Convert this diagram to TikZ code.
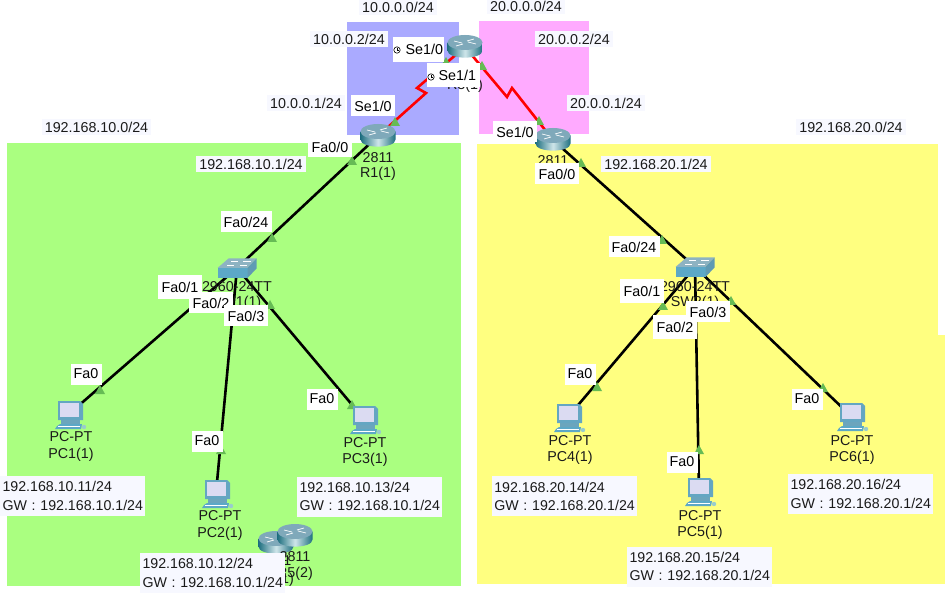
\documentclass[tikz,border=0pt]{standalone}
\usepackage{fontspec}
\setmainfont{Liberation Sans}
\definecolor{zoneblue}{HTML}{AAAAFF}
\definecolor{zonepink}{HTML}{FFAAFF}
\definecolor{zonegreen}{HTML}{AAFF80}
\definecolor{zoneyellow}{HTML}{FFFF80}
\definecolor{notewhite}{HTML}{F7F8FF}
\definecolor{linkgreen}{HTML}{66BB55}
\definecolor{inktext}{HTML}{1A1A1A}
\definecolor{routertop}{HTML}{7FA9BA}
\definecolor{routerside}{HTML}{1F6F80}
\definecolor{routerglow}{HTML}{CFE6EA}
\tikzset{
	devspot/.style={inner sep=0pt, minimum size=0pt},
	devtext/.style={font=\fontsize{14.3}{16}\selectfont, text=inktext, inner sep=0pt},
	portlabel/.style={font=\fontsize{14.3}{16}\selectfont, fill=white, text=black, inner xsep=0pt, inner ysep=0pt, minimum width=44pt, minimum height=21pt},
	iplabel/.style={font=\fontsize{14.3}{16}\selectfont, fill=notewhite, text=inktext, inner xsep=3pt, inner ysep=3pt},
	notelabel/.style={font=\fontsize{14.2}{18.5}\selectfont, fill=notewhite, text=inktext, align=left, text width=140pt, inner xsep=2.75pt, inner ysep=0pt, minimum height=40pt},
	lanlink/.style={black, line width=2.6pt},
	wanlink/.style={red, line width=2.6pt},
	router/.pic={
		\path[left color=routerside, right color=routerside, middle color=routerglow]
			(-17.5,-4.5) -- (-17.5,3.5) .. controls (-17.5,13) and (17.5,13) .. (17.5,3.5) -- (17.5,-4.5) -- cycle;
		\fill[routertop] (0,-4.5) ellipse[x radius=17.5, y radius=7.5];
		\draw[white, line width=0.7pt] (-11,-6) -- (-3,-4) (11,-3) -- (3,-5) (-9,-1) -- (-2,-3) (9,-8) -- (2,-6);
	},
	switch/.pic={
		\fill[cyan!35!gray!80] (-19.5,0) -- (-8.5,-9.5) -- (19.5,-9.5) -- (10.5,0) -- cycle;
		\fill[cyan!55!gray] (-19.5,0) rectangle (10.5,10);
		\fill[cyan!60!black!80] (10.5,0) -- (19.5,-9.5) -- (19.5,0.5) -- (10.5,10) -- cycle;
		\draw[white, line width=0.5pt] (-10,-3) -- (-3,-3) (-6,-7) -- (1,-7) (3,-3) -- (10,-3) (6,-7) -- (14,-7);
	},
	pcunit/.pic={
		\fill[cyan!50!gray] (-11,-13) -- (11,-13) -- (14,-10) -- (14,6) -- (-11,6) -- cycle;
		\fill[blue!10!white!90!gray] (-9,-11) rectangle (10,3);
		\fill[cyan!45!gray] (-8,6) rectangle (11,10);
		\fill[cyan!55!gray] (-12,12) -- (-9,10) -- (13,10) -- (12,15) -- (-14,15) -- cycle;
		\draw[white, line width=0.4pt] (-11,12.5) -- (11,12.5);
		\fill[white!60!teal] (15,13) circle (2.2);
	},
}
\newcommand{\clockmark}[2]{%
	\draw[black, line width=0.6pt] (#1,#2) circle (3.2);
	\draw[black, line width=0.8pt] (#1,#2-2.4) -- (#1,#2) -- (#1+2.2,#2);
}
\begin{document}
\begin{tikzpicture}[x=1pt, y=-1pt]
	\useasboundingbox (0,0) rectangle (947,593);
	\fill[white] (0,0) rectangle (947,593);
	% zones
	\fill[zoneblue] (347,22) rectangle (459,135);
	\fill[zonepink] (479,21) rectangle (589,134);
	\fill[zonegreen] (7,143) rectangle (461,586);
	\fill[zoneyellow] (477,144) rectangle (938,336);
	\fill[zoneyellow] (477,335) rectangle (945,584);
	% devices
	\node[devspot] (R1) at (378,136) {};
	\node[devspot] (R2) at (553,140) {};
	\node[devspot] (R3) at (465,47) {};
	\node[devspot] (SW1) at (237,268) {};
	\node[devspot] (SW2) at (695,267) {};
	\node[devspot] (PC1) at (69,414) {};
	\node[devspot] (PC2) at (216,493) {};
	\node[devspot] (PC3) at (364,419) {};
	\node[devspot] (PC4) at (568,417) {};
	\node[devspot] (PC5) at (699,491) {};
	\node[devspot] (PC6) at (851,416) {};
	\node[devspot] (R4) at (276,543) {};
	\node[devspot] (R5) at (295,536) {};
	% links
	\draw[wanlink] (R1) -- (426,93) -- (417,88) -- (R3);
	\draw[wanlink] (R3) -- (507,97) -- (512,88) -- (R2);
	\draw[lanlink] (R1) -- (SW1);
	\draw[lanlink] (R2) -- (SW2);
	\draw[lanlink] (SW1) -- (PC1);
	\draw[lanlink] (SW1) -- (PC2);
	\draw[lanlink] (SW1) -- (PC3);
	\draw[lanlink] (SW2) -- (PC4);
	\draw[lanlink] (SW2) -- (PC5);
	\draw[lanlink] (SW2) -- (PC6);
	% link lights
	\foreach \p in {(395,122),(352,161),(446,62),(482,66),(539,121),(581,163),(272,238),(662,240),
		(270,305),(663,306),(731,301),(100,390),(221,450),(352,405),(597,387),(699,450),(823,388)}
		\fill[linkgreen] \p +(-5,4) -- +(5,4) -- +(0,-5) -- cycle;
	% icons
	\pic at (R1) {router};
	\pic at (R2) {router};
	\pic at (R3) {router};
	\pic at (R4) {router};
	\pic at (R5) {router};
	\pic at (SW1) {switch};
	\pic at (SW2) {switch};
	\pic at (PC1) {pcunit};
	\pic at (PC2) {pcunit};
	\pic at (PC3) {pcunit};
	\pic at (PC4) {pcunit};
	\pic at (PC5) {pcunit};
	\pic at (PC6) {pcunit};
	% device names
	\node[devtext] (R1t) at (378,158) {2811};
	\node[devtext] (R1n) at (378,174) {R1(1)};
	\node[devtext] (R2t) at (553,161) {2811};
	\node[devtext] (R3t) at (465,70) {2811};
	\node[devtext] (R3n) at (465,86) {R3(1)};
	\node[devtext] (SW1t) at (237,287) {2960-24TT};
	\node[devtext] (SW1n) at (237,303) {SW1(1)};
	\node[devtext] (SW2t) at (695,287) {2960-24TT};
	\node[devtext] (SW2n) at (695,303) {SW2(1)};
	\node[devtext] (PC1t) at (71,437) {PC-PT};
	\node[devtext] (PC1n) at (71,455) {PC1(1)};
	\node[devtext] (PC2t) at (220,516) {PC-PT};
	\node[devtext] (PC2n) at (220,534) {PC2(1)};
	\node[devtext] (PC3t) at (365,443) {PC-PT};
	\node[devtext] (PC3n) at (365,460) {PC3(1)};
	\node[devtext] (PC4t) at (570,441) {PC-PT};
	\node[devtext] (PC4n) at (570,458) {PC4(1)};
	\node[devtext] (PC5t) at (700,516) {PC-PT};
	\node[devtext] (PC5n) at (700,533) {PC5(1)};
	\node[devtext] (PC6t) at (852,441) {PC-PT};
	\node[devtext] (PC6n) at (852,458) {PC6(1)};
	\node[devtext] (R4t) at (276,561) {2811};
	\node[devtext] (R4n) at (276,580) {R4(1)};
	\node[devtext] (R5t) at (295,557) {2811};
	\node[devtext] (R5n) at (295,574) {R5(2)};
	% subnets and addresses
	\node[iplabel] (netA) at (398,7) {10.0.0.0/24};
	\node[iplabel] (netB) at (526,6) {20.0.0.0/24};
	\node[iplabel] (netC) at (96.5,127) {192.168.10.0/24};
	\node[iplabel] (netD) at (851,127) {192.168.20.0/24};
	\node[iplabel] (ipA) at (349,39) {10.0.0.2/24};
	\node[iplabel] (ipB) at (574,39) {20.0.0.2/24};
	\node[iplabel] (ipC) at (306,103) {10.0.0.1/24};
	\node[iplabel] (ipD) at (606,103) {20.0.0.1/24};
	\node[iplabel] (ipE) at (251,164) {192.168.10.1/24};
	\node[iplabel] (ipF) at (656,164) {192.168.20.1/24};
	% ports
	\node[portlabel, minimum width=51pt, minimum height=25pt, text width=49pt, align=right] (p1) at (418.5,49.5) {Se1/0};
	\node[portlabel, minimum width=53pt, minimum height=24pt, text width=45pt, align=right] (p2) at (453.5,75) {Se1/1};
	\clockmark{397}{50}
	\clockmark{431}{77}
	\node[portlabel] (p3) at (373,106) {Se1/0};
	\node[portlabel] (p4) at (330,147) {Fa0/0};
	\node[portlabel] (p5) at (515,132) {Se1/0};
	\node[portlabel] (p6) at (557,174) {Fa0/0};
	\node[portlabel, minimum width=51pt] (p7) at (246,222) {Fa0/24};
	\node[portlabel, minimum width=51pt] (p8) at (634,247) {Fa0/24};
	\node[portlabel, minimum height=24pt] (p9) at (180,287) {Fa0/1};
	\node[portlabel] (p10) at (211,303) {Fa0/2};
	\node[portlabel] (p11) at (246,316) {Fa0/3};
	\node[portlabel, minimum height=24pt] (p12) at (642,291) {Fa0/1};
	\node[portlabel, minimum height=23pt] (p13) at (675,327) {Fa0/2};
	\node[portlabel] (p14) at (708,312) {Fa0/3};
	\node[portlabel, minimum width=31pt] (p15) at (86,374) {Fa0};
	\node[portlabel, minimum width=31pt] (p16) at (207,441) {Fa0};
	\node[portlabel, minimum width=31pt] (p17) at (322,399) {Fa0};
	\node[portlabel, minimum width=31pt] (p18) at (580,374) {Fa0};
	\node[portlabel, minimum width=31pt] (p19) at (682,462) {Fa0};
	\node[portlabel, minimum width=31pt] (p20) at (807,399) {Fa0};
	% host notes
	\node[notelabel] (noteA) at (72.5,496) {192.168.10.11/24\\\mbox{GW : 192.168.10.1/24}};
	\node[notelabel] (noteB) at (212.5,573) {192.168.10.12/24\\\mbox{GW : 192.168.10.1/24}};
	\node[notelabel] (noteC) at (369.5,496.5) {192.168.10.13/24\\\mbox{GW : 192.168.10.1/24}};
	\node[notelabel] (noteD) at (564.3,496.2) {192.168.20.14/24\\\mbox{GW : 192.168.20.1/24}};
	\node[notelabel] (noteE) at (699.5,566.5) {192.168.20.15/24\\\mbox{GW : 192.168.20.1/24}};
	\node[notelabel] (noteF) at (860.5,494) {192.168.20.16/24\\\mbox{GW : 192.168.20.1/24}};
\end{tikzpicture}
\end{document}
